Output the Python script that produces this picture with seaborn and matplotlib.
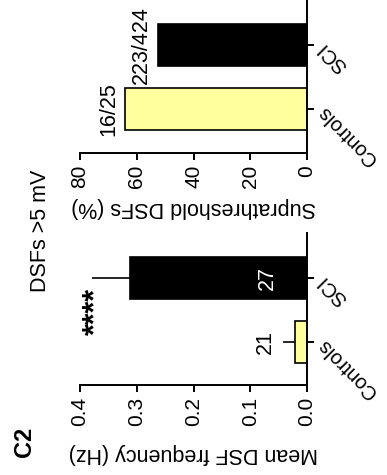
import matplotlib
matplotlib.use("Agg")
import matplotlib.pyplot as plt
import seaborn as sns
import pandas as pd

# ---- data ----
groups = ["SCI", "Controls"]
supra_counts = ["223/424", "16/25"]
supra_pct = [223 / 424 * 100, 16 / 25 * 100]
freq_mean = [0.312, 0.021]
freq_sem = [0.066, 0.021]
n_cells = [27, 21]
supra_ticks = [0, 20, 40, 60, 80]
freq_ticks = [0.0, 0.1, 0.2, 0.3, 0.4]
bar_colors = {"SCI": "#000000", "Controls": "#FFFF9E"}

sns.set_theme(style="ticks")
plt.rcParams["font.family"] = ["Liberation Sans", "DejaVu Sans"]
plt.rcParams["axes.linewidth"] = 1.4
plt.rcParams["xtick.major.width"] = 1.4
plt.rcParams["ytick.major.width"] = 1.4
for key in ("text.color", "axes.labelcolor", "xtick.color", "ytick.color",
            "axes.edgecolor"):
    plt.rcParams[key] = "black"

FS = 15.5
fig = plt.figure(figsize=(3.87, 4.75), dpi=100)

# panel layout (rotated figure: bars grow to the left, category axis on the right)
ax_top = fig.add_axes([80 / 387, 1 - 153 / 475, 227 / 387, 153 / 475])
ax_bot = fig.add_axes([80 / 387, 1 - 385 / 475, 227 / 387, 152 / 475])

df_supra = pd.DataFrame({"group": groups, "pct": supra_pct})
df_freq = pd.DataFrame({"group": groups, "freq": freq_mean})

sns.barplot(data=df_supra, x="pct", y="group", hue="group", order=groups,
            palette=bar_colors, saturation=1, orient="h", width=0.656,
            edgecolor="black", linewidth=1.2, errorbar=None, legend=False,
            ax=ax_top)
sns.barplot(data=df_freq, x="freq", y="group", hue="group", order=groups,
            palette=bar_colors, saturation=1, orient="h", width=0.656,
            edgecolor="black", linewidth=1.2, errorbar=None, legend=False,
            ax=ax_bot)

# one-sided SEM bars
ax_bot.errorbar(freq_mean, range(len(groups)), xerr=[[0] * len(groups), freq_sem],
                fmt="none", ecolor="black", elinewidth=1.2, capsize=0, zorder=1)

ax_top.set_xlim(80, 0)
ax_top.set_ylim(1 + 44 / 64, -45 / 64)
ax_bot.set_xlim(0.4, 0)
ax_bot.set_ylim(1 + 43 / 64, -45 / 64)
ax_top.set_xticks(supra_ticks)
ax_bot.set_xticks(freq_ticks)
ax_bot.set_xticklabels([f"{t:.1f}" for t in freq_ticks])

for ax in (ax_top, ax_bot):
    sns.despine(ax=ax, left=True, right=False, top=True, bottom=False)
    ax.yaxis.tick_right()
    ax.yaxis.set_label_position("right")
    ax.set_ylabel("")
    ax.tick_params(axis="x", direction="out", length=5, pad=3.5, labelsize=15,
                   labelrotation=90)
    ax.tick_params(axis="y", direction="out", length=5, pad=5, labelsize=14.5)
    for lab in ax.get_yticklabels():
        lab.set_rotation(135)
        lab.set_rotation_mode("anchor")
        lab.set_ha("right")
        lab.set_va("center")
    ax.set_facecolor("white")

ax_top.set_xlabel("Suprathreshold DSFs (%)", fontsize=FS, rotation=180, labelpad=6)
ax_bot.set_xlabel("Mean DSF frequency (Hz)", fontsize=FS, rotation=180, labelpad=12)

# count labels at the bar ends
for i, (v, txt) in enumerate(zip(supra_pct, supra_counts)):
    ax_top.annotate(txt, xy=(v, i), xytext=(-4.5, 0), textcoords="offset points",
                    ha="right", va="center", rotation=90, fontsize=FS)

# n per group
ax_bot.text(0.0705, 0, str(n_cells[0]), color="white", rotation=90,
            ha="center", va="center", fontsize=FS)
ax_bot.text(0.074, 1, str(n_cells[1]), color="black", rotation=90,
            ha="center", va="center", fontsize=FS)

# significance
ax_bot.text(0.372, 0.52, "****", rotation=90, ha="center", va="center",
            fontsize=22, fontweight="bold")

fig.text(40 / 387, 1 - 231 / 475, "DSFs >5 mV", rotation=90, ha="center",
         va="center", fontsize=FS)
fig.text(25 / 387, 1 - 442 / 475, "C2", rotation=90, ha="center", va="center",
         fontsize=17, fontweight="bold")

fig.savefig("out.png", dpi=100, facecolor="white")
